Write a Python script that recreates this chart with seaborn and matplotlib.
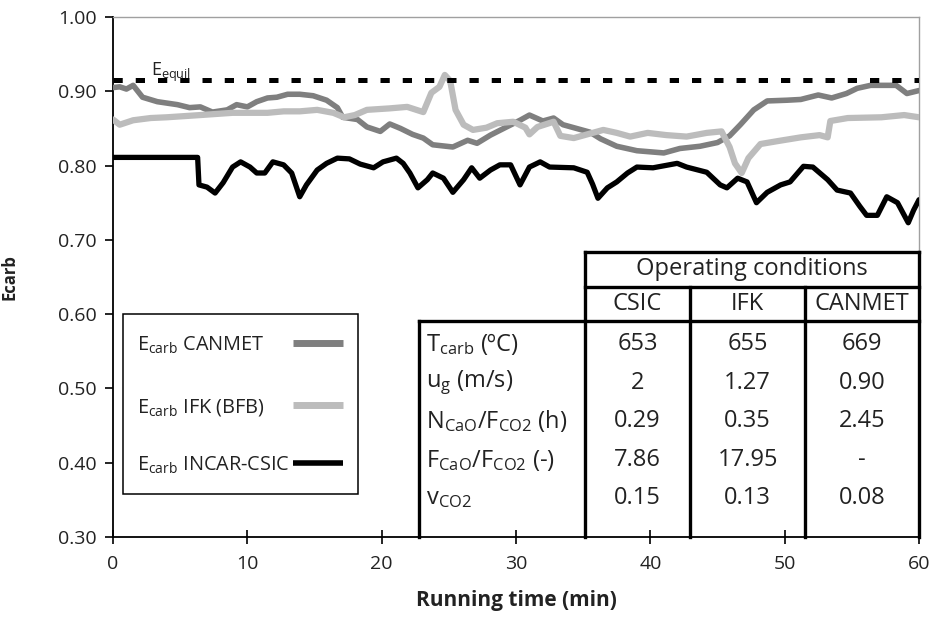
import numpy as np
import pandas as pd
import matplotlib
matplotlib.use("Agg")
import matplotlib.pyplot as plt
from matplotlib.patches import Rectangle
import seaborn as sns

# ==========================
# Data
# ==========================
t_canmet = [0.0, 0.5, 1.0, 1.5, 2.2, 3.3, 4.8, 5.7, 6.5, 7.4, 8.5, 9.2, 10.0, 10.7, 11.5, 12.2,
            13.0, 13.9, 14.9, 15.9, 16.7, 17.1, 18.2, 18.9, 19.9, 20.6, 21.4, 22.3, 23.1, 23.8,
            25.3, 26.4, 27.1, 28.1, 29.3, 30.3, 31.0, 32.0, 32.8, 33.5, 34.3, 35.5, 36.3, 37.5,
            39.0, 41.0, 42.2, 43.7, 45.0, 45.9, 46.7, 47.7, 48.7, 50.2, 51.2, 52.5, 53.5, 54.6,
            55.4, 56.4, 58.3, 59.1, 60.0]
e_canmet = [0.905, 0.906, 0.903, 0.908, 0.892, 0.886, 0.882, 0.878, 0.879, 0.872, 0.875, 0.882,
            0.879, 0.886, 0.891, 0.892, 0.896, 0.896, 0.894, 0.888, 0.878, 0.865, 0.862, 0.852,
            0.846, 0.856, 0.850, 0.842, 0.837, 0.828, 0.825, 0.834, 0.830, 0.841, 0.852, 0.861,
            0.868, 0.860, 0.864, 0.855, 0.851, 0.845, 0.836, 0.826, 0.820, 0.817, 0.823, 0.826,
            0.831, 0.840, 0.855, 0.875, 0.887, 0.888, 0.889, 0.895, 0.891, 0.897, 0.904, 0.908,
            0.908, 0.897, 0.901]

t_ifk = [0.0, 0.5, 1.5, 2.8, 4.0, 6.5, 8.9, 11.5, 12.7, 13.9, 15.2, 16.4, 17.2, 18.0, 18.9, 20.6,
         21.9, 23.1, 23.7, 24.3, 24.7, 25.1, 25.5, 26.1, 26.8, 27.8, 28.6, 29.8, 30.7, 31.0, 31.6,
         32.8, 33.3, 34.3, 35.5, 36.5, 37.5, 38.5, 39.8, 41.2, 42.7, 44.2, 45.3, 45.9, 46.3, 46.8,
         47.3, 48.2, 49.5, 51.2, 52.6, 53.2, 53.4, 54.7, 57.2, 58.9, 60.0]
e_ifk = [0.862, 0.855, 0.861, 0.864, 0.865, 0.868, 0.871, 0.871, 0.873, 0.873, 0.875, 0.871,
         0.865, 0.868, 0.875, 0.877, 0.879, 0.872, 0.898, 0.906, 0.922, 0.914, 0.875, 0.855,
         0.848, 0.851, 0.857, 0.859, 0.851, 0.842, 0.852, 0.859, 0.840, 0.837, 0.843, 0.848,
         0.844, 0.839, 0.844, 0.841, 0.839, 0.844, 0.846, 0.825, 0.803, 0.790, 0.810, 0.829,
         0.833, 0.838, 0.841, 0.838, 0.860, 0.864, 0.865, 0.868, 0.865]

t_incar = [0.0, 6.3, 6.4, 7.0, 7.6, 8.2, 8.9, 9.5, 10.2, 10.7, 11.3, 11.9, 12.7, 13.3, 13.9, 14.4,
           15.2, 15.9, 16.7, 17.6, 18.4, 19.4, 20.1, 21.1, 21.6, 22.1, 22.7, 23.4, 23.8, 24.6,
           25.3, 26.1, 26.7, 27.3, 28.1, 28.8, 29.6, 30.3, 31.0, 31.8, 32.5, 34.3, 35.3, 35.7,
           36.1, 36.8, 37.5, 38.3, 39.0, 40.2, 42.0, 42.7, 44.2, 45.2, 45.7, 46.5, 47.2, 47.9,
           48.7, 49.7, 50.4, 51.4, 52.1, 53.2, 53.9, 54.9, 55.6, 56.1, 56.9, 57.6, 58.4, 59.2,
           59.6, 60.0]
e_incar = [0.811, 0.811, 0.774, 0.771, 0.763, 0.777, 0.798, 0.805, 0.798, 0.790, 0.790, 0.805,
           0.801, 0.790, 0.758, 0.774, 0.794, 0.803, 0.810, 0.809, 0.802, 0.797, 0.805, 0.810,
           0.803, 0.790, 0.770, 0.781, 0.790, 0.783, 0.764, 0.781, 0.797, 0.783, 0.794, 0.801,
           0.801, 0.774, 0.798, 0.805, 0.798, 0.797, 0.791, 0.775, 0.756, 0.770, 0.778, 0.790,
           0.798, 0.797, 0.803, 0.798, 0.791, 0.774, 0.770, 0.783, 0.778, 0.750, 0.764, 0.774,
           0.778, 0.799, 0.798, 0.781, 0.767, 0.763, 0.745, 0.733, 0.733, 0.758, 0.750, 0.723,
           0.740, 0.754]

e_equil = 0.915

series_labels = [r"E$_{\rm carb}$ CANMET", r"E$_{\rm carb}$ IFK (BFB)", r"E$_{\rm carb}$ INCAR-CSIC"]
series_colors = ["#7f7f7f", "#bcbcbc", "#000000"]
series_widths = [4.0, 4.5, 3.8]

# operating conditions table
col_names = ["CSIC", "IFK", "CANMET"]
row_labels = [r"T$_{\rm carb}$ (ºC)", r"u$_{\rm g}$ (m/s)", r"N$_{\rm CaO}$/F$_{\rm CO2}$ (h)",
              r"F$_{\rm CaO}$/F$_{\rm CO2}$ (-)", r"v$_{\rm CO2}$"]
csic_vals = ["653", "2", "0.29", "7.86", "0.15"]
ifk_vals = ["655", "1.27", "0.35", "17.95", "0.13"]
canmet_vals = ["669", "0.90", "2.45", "-", "0.08"]

# ==========================
# Style
# ==========================
sns.set_theme(style="white")
plt.rcParams["font.family"] = ["Open Sans", "DejaVu Sans"]
plt.rcParams["mathtext.fontset"] = "custom"
plt.rcParams["mathtext.rm"] = "Open Sans"
plt.rcParams["mathtext.it"] = "Open Sans:italic"
plt.rcParams["mathtext.bf"] = "Open Sans:bold"
txt_color = "#222222"

fig = plt.figure(figsize=(9.31, 6.37), dpi=100)
ax = fig.add_axes([113 / 931, 1 - 537 / 637, 806 / 931, 520 / 637])

frames = [
    pd.DataFrame({"t": t_canmet, "e": e_canmet}),
    pd.DataFrame({"t": t_ifk, "e": e_ifk}),
    pd.DataFrame({"t": t_incar, "e": e_incar}),
]
for df, col, lw in zip(frames, series_colors, series_widths):
    sns.lineplot(data=df, x="t", y="e", ax=ax, color=col, lw=lw, legend=False,
                 sort=False, estimator=None, zorder=3)

ax.axhline(e_equil, color="black", lw=3.6, dashes=(1.85, 2.6), zorder=4)
ax.text(2.8, 0.921, r"E$_{\rm equil}$", fontsize=13, color=txt_color, zorder=2,
        va="baseline")

ax.set_xlim(0, 60)
ax.set_ylim(0.30, 1.00)
ax.set_xticks(np.arange(0, 61, 10))
ax.set_yticks(np.arange(0.3, 1.001, 0.1))
ax.set_yticklabels([f"{v:.2f}" for v in np.arange(0.3, 1.001, 0.1)])

for s in ["left", "bottom"]:
    ax.spines[s].set_color("black")
    ax.spines[s].set_linewidth(1.3)
for s in ["top", "right"]:
    ax.spines[s].set_color("#a0a0a0")
    ax.spines[s].set_linewidth(1.0)

ax.tick_params(axis="x", direction="inout", length=10, width=1.2, color="black",
               labelsize=14, labelcolor=txt_color, pad=8, bottom=True)
ax.tick_params(axis="y", direction="out", length=6, width=1.2, color="black",
               labelsize=14, labelcolor=txt_color, pad=6, left=True)

ax.set_xlabel("Running time (min)", fontsize=15, fontweight="bold", color=txt_color, labelpad=12)
ax.set_ylabel("Ecarb", fontsize=12, fontweight="bold", color=txt_color)
ax.yaxis.set_label_coords(-0.117, 0.5)

# ==========================
# Legend box (text left, sample line right)
# ==========================
tr = ax.transAxes
ax.add_patch(Rectangle((0.0124, 0.083), 0.2916, 0.346, transform=tr, fill=True,
                       facecolor="white", edgecolor="black", lw=1.1, zorder=6))
leg_y = [0.369, 0.250, 0.138]
for lab, col, yy, hlw in zip(series_labels, series_colors, leg_y, [5.0, 5.0, 4.0]):
    ax.text(0.0298, yy, lab, transform=tr, ha="left", va="center", fontsize=14.3,
            color=txt_color, zorder=7)
    ax.plot([0.223, 0.285], [yy + 0.004, yy + 0.004], transform=tr, color=col, lw=hlw,
            solid_capstyle="butt", zorder=7)

# ==========================
# Operating conditions table
# ==========================
x_body = 0.380
col_edges = [0.5856, 0.716, 0.8586, 1.0]
y_top, y_hdr, y_body, y_bot = 0.548, 0.481, 0.415, 0.0
row_y = [0.371, 0.296, 0.223, 0.148, 0.075]
tlw = 2.4
tcol = "black"

def tline(xs, ys):
    ax.plot(xs, ys, color=tcol, lw=tlw, transform=tr, clip_on=False, zorder=5,
            solid_capstyle="projecting")

tline([col_edges[0], 1.0], [y_top, y_top])
tline([col_edges[0], 1.0], [y_hdr, y_hdr])
tline([x_body, 1.0], [y_body, y_body])
tline([col_edges[0], col_edges[0]], [y_top, y_bot])
tline([1.0, 1.0], [y_top, y_bot])
tline([x_body, x_body], [y_body, y_bot])
for xe in col_edges[1:3]:
    tline([xe, xe], [y_hdr, y_bot])

tfs = 17
ax.text((col_edges[0] + 1.0) / 2, (y_top + y_hdr) / 2, "Operating conditions", transform=tr,
        ha="center", va="center", fontsize=tfs, color=txt_color)
for i, name in enumerate(col_names):
    ax.text((col_edges[i] + col_edges[i + 1]) / 2, (y_hdr + y_body) / 2, name, transform=tr,
            ha="center", va="center", fontsize=tfs, color=txt_color)
for j, lab in enumerate(row_labels):
    ax.text(x_body + 0.008, row_y[j], lab, transform=tr, ha="left", va="center",
            fontsize=tfs, color=txt_color)
    for i, vals in enumerate([csic_vals, ifk_vals, canmet_vals]):
        ax.text((col_edges[i] + col_edges[i + 1]) / 2, row_y[j], vals[j], transform=tr,
                ha="center", va="center", fontsize=tfs, color=txt_color)

fig.savefig("out.png", dpi=100)
